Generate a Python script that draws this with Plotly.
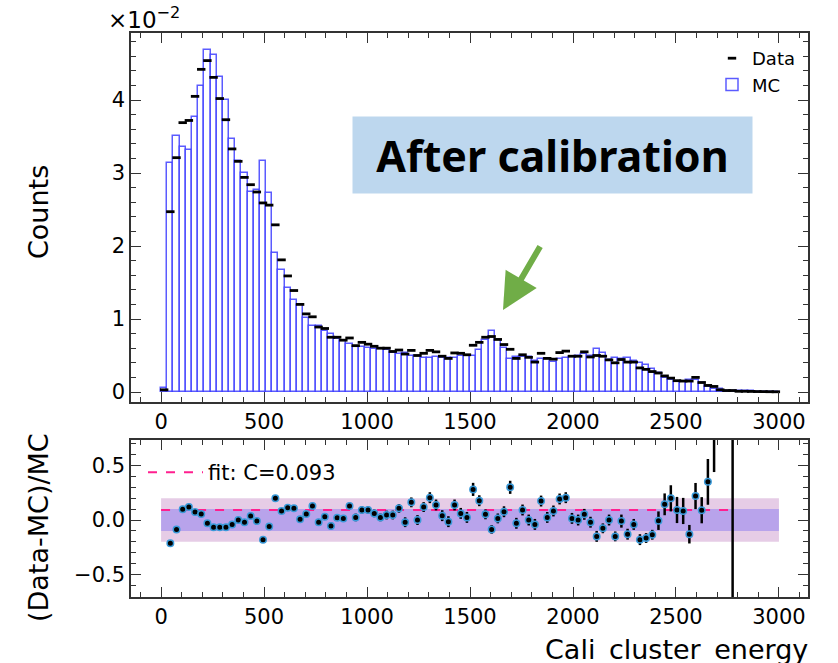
import numpy as np
import plotly.graph_objects as go

# ---------------- data ----------------
BIN_WIDTH = 30
N_BINS = 100
bin_edges = np.arange(N_BINS + 1) * BIN_WIDTH
bin_centers = (bin_edges[:-1] + bin_edges[1:]) / 2

# normalised counts, in units of 1e-2
mc_counts = [0.05, 3.14, 3.51, 3.36, 3.32, 3.77, 4.19, 4.68, 4.62, 4.31,
             4.00, 3.47, 3.16, 3.00, 2.74, 2.77, 3.16, 2.72, 1.91, 1.67,
             1.43, 1.26, 1.19, 1.01, 0.91, 0.91, 0.84, 0.79, 0.73, 0.70,
             0.66, 0.62, 0.62, 0.60, 0.59, 0.59, 0.575, 0.53, 0.52, 0.53,
             0.49, 0.50, 0.47, 0.47, 0.48, 0.47, 0.47, 0.47, 0.50, 0.50,
             0.50, 0.58, 0.71, 0.83, 0.71, 0.60, 0.45, 0.475, 0.475, 0.475,
             0.42, 0.45, 0.45, 0.415, 0.45, 0.47, 0.48, 0.49, 0.52, 0.49,
             0.585, 0.53, 0.44, 0.47, 0.45, 0.47, 0.43, 0.40, 0.37, 0.32,
             0.26, 0.19, 0.16, 0.14, 0.14, 0.17, 0.165, 0.12, 0.066, 0.04,
             0.035, 0.02, 0.012, 0.01, 0.008, 0.007, 0.006, 0.005, 0.004, 0.003]

data_counts = [0.03, 2.47, 3.21, 3.69, 3.72, 4.05, 4.42, 4.54, 4.31, 4.02,
               3.73, 3.33, 3.16, 2.94, 2.84, 2.74, 2.59, 2.56, 2.29, 1.81,
               1.59, 1.39, 1.20, 1.07, 1.03, 0.89, 0.87, 0.75, 0.75, 0.71,
               0.74, 0.635, 0.68, 0.655, 0.626, 0.60, 0.60, 0.555, 0.575, 0.52,
               0.57, 0.50, 0.53, 0.57, 0.55, 0.49, 0.46, 0.535, 0.53, 0.51,
               0.64, 0.68, 0.75, 0.76, 0.72, 0.65, 0.585, 0.46, 0.51, 0.475,
               0.41, 0.53, 0.46, 0.45, 0.54, 0.56, 0.49, 0.49, 0.55, 0.48,
               0.50, 0.49, 0.44, 0.40, 0.445, 0.41, 0.41, 0.33, 0.31, 0.28,
               0.26, 0.22, 0.19, 0.155, 0.15, 0.15, 0.20, 0.13, 0.09, 0.076,
               0.03, 0.02, 0.02, 0.01, 0.01, 0.008, 0.006, 0.005, 0.004, 0.003]

ratio = [None, -0.214, -0.086, 0.098, 0.119, 0.073, 0.055, -0.03, -0.067, -0.067,
         -0.067, -0.04, 0.0, -0.02, 0.037, -0.01, -0.18, -0.06, 0.20, 0.083,
         0.113, 0.107, 0.006, 0.055, 0.128, -0.02, 0.03, -0.055, 0.021, 0.015,
         0.128, 0.024, 0.092, 0.092, 0.061, 0.024, 0.046, 0.046, 0.107, -0.02,
         0.162, 0.0, 0.119, 0.205, 0.138, 0.04, -0.015, 0.138, 0.061, 0.024,
         0.281, 0.177, 0.052, -0.086, 0.015, 0.076, 0.30, -0.03, 0.092, 0.0,
         -0.04, 0.174, 0.024, 0.083, 0.193, 0.205, 0.015, 0.0, 0.052, -0.02,
         -0.15, -0.076, 0.0, -0.15, -0.01, -0.13, -0.04, -0.18, -0.165, -0.135,
         -0.006, 0.144, 0.199, 0.092, 0.083, -0.13, 0.22, 0.09, 0.35, 0.90,
         None, None, 2.0, None, None, None, None, None, None, None]

ratio_err = [0, .012, .012, .012, .012, .012, .012, .012, .012, .012,
             .012, .015, .015, .015, .015, .015, .015, .015, .025, .025,
             .025, .025, .025, .025, .025, .03, .03, .03, .03, .03,
             .03, .035, .035, .035, .035, .035, .04, .04, .04, .045,
             .045, .045, .045, .05, .05, .05, .05, .05, .05, .05,
             .06, .05, .045, .04, .045, .05, .06, .05, .05, .05,
             .05, .05, .05, .05, .05, .05, .05, .05, .05, .05,
             .05, .045, .05, .045, .06, .05, .05, .05, .045, .045,
             .085, .1, .12, .12, .12, .085, .12, .12, .21, .46,
             0, 0, 3.0, 0, 0, 0, 0, 0, 0, 0]

FIT_C = 0.093
BAND_OUTER = 0.2
BAND_INNER = 0.1

# ---------------- figure ----------------
W, H = 838, 663
ML, MR, MT, MB = 131, 30, 33, 66
plot_h = H - MT - MB
def py(pix):  # pixel y -> paper y
    return (H - MB - pix) / plot_h
def px(pix):
    return (pix - ML) / (W - ML - MR)

FONT = "DejaVu Sans"
AX_COL = "#333333"

fig = go.Figure()

# MC histogram
fig.add_trace(go.Bar(
    x=bin_centers, y=mc_counts, width=BIN_WIDTH, name="MC",
    marker=dict(color="white", line=dict(color="rgba(50,50,255,0.8)", width=1.5)),
    xaxis="x", yaxis="y", legend="legend"))
# Data
fig.add_trace(go.Scatter(
    x=bin_centers, y=data_counts, mode="markers", name="Data",
    marker=dict(symbol="line-ew", size=6, line=dict(color="black", width=2.8)),
    xaxis="x", yaxis="y", legend="legend"))

# ratio bands
last_edge = bin_edges[-1]
for half, col in [(BAND_OUTER, "rgba(128,0,128,0.2)"), (BAND_INNER, "rgba(0,0,255,0.2)")]:
    fig.add_trace(go.Scatter(
        x=[bin_edges[0], last_edge, last_edge, bin_edges[0], bin_edges[0]],
        y=[half, half, -half, -half, half],
        fill="toself", fillcolor=col, line=dict(width=0), mode="lines",
        hoverinfo="skip", showlegend=False, xaxis="x2", yaxis="y2"))

# fit line
valid = [i for i, r in enumerate(ratio) if r is not None]
fig.add_trace(go.Scatter(
    x=[bin_edges[0], bin_centers[valid[-1]]], y=[FIT_C, FIT_C], mode="lines",
    name=f"fit: C={FIT_C:.3f}", line=dict(color="#ff1f8f", width=2, dash="dash"),
    xaxis="x2", yaxis="y2", legend="legend2"))

# ratio points
fig.add_trace(go.Scatter(
    x=[bin_centers[i] for i in valid], y=[ratio[i] for i in valid],
    error_y=dict(type="data", array=[ratio_err[i] for i in valid],
                 color="black", thickness=2.5, width=0),
    mode="markers", marker=dict(color="black", size=6.5, line=dict(color="#3a9ad9", width=1.5)),
    showlegend=False, xaxis="x2", yaxis="y2"))

axis_common = dict(showline=True, linecolor=AX_COL, linewidth=1.5, mirror="allticks",
                   ticks="inside", ticklen=10, tickwidth=1.2, tickcolor=AX_COL,
                   showgrid=False, zeroline=False,
                   tickfont=dict(family=FONT, size=21, color="black"))

top_bottom = py(402)
ratio_top = py(440)

fig.update_layout(
    width=W, height=H, margin=dict(l=ML, r=MR, t=MT, b=MB),
    paper_bgcolor="white", plot_bgcolor="white",
    barmode="overlay", bargap=0,
    xaxis=dict(domain=[0, 1], range=[-146, 3141], anchor="y", dtick=500, tick0=0,
               minor=dict(dtick=100, ticklen=5, ticks="inside", tickcolor=AX_COL), **axis_common),
    yaxis=dict(domain=[top_bottom, 1], range=[-0.137, 4.918], anchor="x", dtick=1, tick0=0,
               minor=dict(dtick=0.2, ticklen=5, ticks="inside", tickcolor=AX_COL), **axis_common),
    xaxis2=dict(domain=[0, 1], range=[-146, 3141], anchor="y2", dtick=500, tick0=0,
                minor=dict(dtick=100, ticklen=5, ticks="inside", tickcolor=AX_COL), **axis_common),
    yaxis2=dict(domain=[0, ratio_top], range=[-0.706, 0.734], anchor="x2", dtick=0.5, tick0=0,
                tickformat=".1f",
                minor=dict(dtick=0.1, ticklen=5, ticks="inside", tickcolor=AX_COL), **axis_common),
    legend=dict(x=px(712), y=py(40), xanchor="left", yanchor="top",
                font=dict(family=FONT, size=18, color="black"), bgcolor="rgba(0,0,0,0)",
                traceorder="reversed", itemwidth=30, tracegroupgap=2),
    legend2=dict(x=px(143), y=py(452), xanchor="left", yanchor="top",
                 font=dict(family=FONT, size=21, color="black"), bgcolor="rgba(0,0,0,0)",
                 itemwidth=55),
    showlegend=True,
)

annotations = [
    dict(text="×10<sup>−2</sup>", x=px(106), y=py(18), xref="paper", yref="paper",
         xanchor="left", yanchor="middle", showarrow=False,
         font=dict(family=FONT, size=23, color="black")),
    dict(text="Counts", x=px(38), y=py(212), xref="paper", yref="paper", textangle=-90,
         xanchor="center", yanchor="middle", showarrow=False,
         font=dict(family=FONT, size=27, color="black")),
    dict(text="(Data-MC)/MC", x=px(38), y=py(528), xref="paper", yref="paper", textangle=-90,
         xanchor="center", yanchor="middle", showarrow=False,
         font=dict(family=FONT, size=27, color="black")),
    dict(text="Cali_cluster_energy", x=px(810), y=py(649), xref="paper", yref="paper",
         xanchor="right", yanchor="middle", showarrow=False,
         font=dict(family=FONT, size=27, color="black")),
    dict(text="<b>After calibration</b>", x=px(552.5), y=py(155), xref="paper", yref="paper",
         xanchor="center", yanchor="middle", showarrow=False, width=399, height=76,
         bgcolor="#bdd7ee", borderpad=0,
         font=dict(family="Noto Sans", size=43, color="black")),
    dict(text="", x=px(503), y=py(310), xref="paper", yref="paper",
         showarrow=True, ax=38, ay=-65, arrowcolor="#70ad47", arrowwidth=6,
         arrowhead=2, arrowsize=1.2),
]
fig.update_layout(annotations=annotations)

fig.write_html("out.html")
